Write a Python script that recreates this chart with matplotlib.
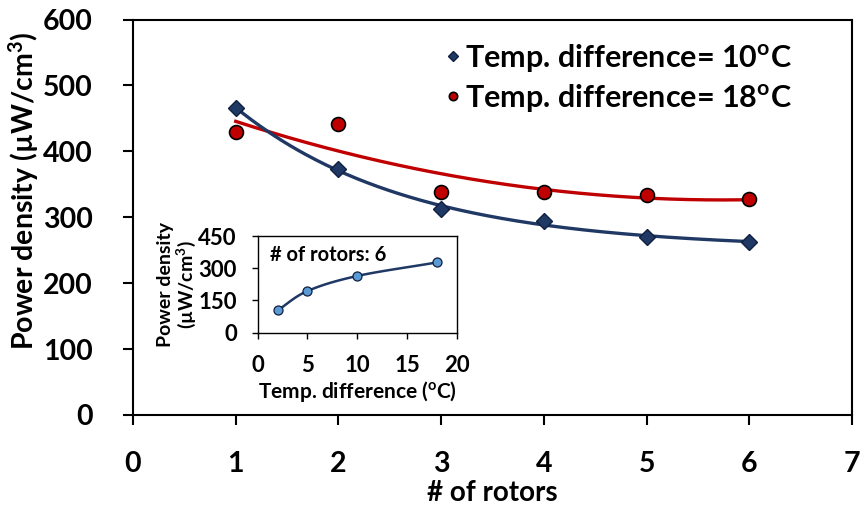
import numpy as np
import matplotlib
matplotlib.use("Agg")
import matplotlib.pyplot as plt

plt.rcParams['font.family'] = ['Lato', 'DejaVu Sans']
plt.rcParams['font.weight'] = 'bold'
plt.rcParams['mathtext.fontset'] = 'custom'
plt.rcParams['mathtext.rm'] = 'Lato:bold'
plt.rcParams['mathtext.bf'] = 'Lato:bold'
plt.rcParams['mathtext.it'] = 'Lato:bold:italic'

# Main chart data: power density vs number of rotors
rotors = [1, 2, 3, 4, 5, 6]
pd_dt10 = [466, 373, 312, 294, 270, 263]
pd_dt18 = [429, 442, 339, 339, 333, 328]
x_ticks = [0, 1, 2, 3, 4, 5, 6, 7]
y_ticks = [0, 100, 200, 300, 400, 500, 600]

# Inset data: power density vs temperature difference (6 rotors)
temp_diff = [2, 5, 10, 18]
pd_6rotors = [104, 194, 264, 327]
inset_x_ticks = [0, 5, 10, 15, 20]
inset_y_ticks = [0, 150, 300, 450]

navy = '#1F3864'
red = '#C00000'
light_blue = '#5B9BD5'


def exp_decay_fit(x, y):
    """Least-squares fit of y = a + b*exp(-c*x), scanning c."""
    x = np.asarray(x, float)
    y = np.asarray(y, float)
    best = None
    for c in np.linspace(0.05, 3.0, 600):
        A = np.column_stack([np.ones_like(x), np.exp(-c * x)])
        coef, *_ = np.linalg.lstsq(A, y, rcond=None)
        err = np.sum((A @ coef - y) ** 2)
        if best is None or err < best[0]:
            best = (err, coef[0], coef[1], c)
    _, a, b, c = best
    return lambda t: a + b * np.exp(-c * t)


fig = plt.figure(figsize=(8.62, 5.07), dpi=100)
ax = fig.add_axes([0.1543, 0.1815, 0.9884 - 0.1543, 0.9615 - 0.1815])

# Trend lines
xs = np.linspace(1, 6, 200)
trend10 = exp_decay_fit(rotors, pd_dt10)
fit18 = np.polyfit(rotors, pd_dt18, 2)
ax.plot(xs, np.polyval(fit18, xs), color=red, lw=2.4, zorder=2)
ax.plot(xs, trend10(xs), color=navy, lw=2.4, zorder=2)

ax.plot(rotors, pd_dt10, linestyle='none', marker='D', ms=8.5, mfc=navy,
        mec='#10203F', mew=1.0, zorder=3,
        label='Temp. difference= 10$^{\\mathrm{o}}$C')
ax.plot(rotors, pd_dt18, linestyle='none', marker='o', ms=10, mfc=red,
        mec='black', mew=1.2, zorder=3,
        label='Temp. difference= 18$^{\\mathrm{o}}$C')

ax.set_xlim(0, 7)
ax.set_ylim(0, 600)
ax.set_xticks(x_ticks)
ax.set_yticks(y_ticks)
ax.tick_params(axis='both', direction='out', length=7, width=1.5,
               labelsize=20.5)
ax.tick_params(axis='y', pad=22)
ax.tick_params(axis='x', pad=19)
for lab in ax.get_xticklabels() + ax.get_yticklabels():
    lab.set_fontweight('bold')
for sp in ax.spines.values():
    sp.set_linewidth(1.5)
ax.set_xlabel('# of rotors', fontsize=20, fontweight='bold', labelpad=2)
ax.set_ylabel('Power density (\u00b5W/cm$^{3}$)', fontsize=20.5,
              fontweight='bold')
ax.yaxis.set_label_coords(-0.128, 0.566)

leg = ax.legend(loc='upper left', bbox_to_anchor=(0.405, 0.997), frameon=False,
                markerscale=0.6, handlelength=0.5,
                handletextpad=0.15, labelspacing=0.25, borderpad=0.2,
                prop={'weight': 'bold', 'size': 22})

# Inset chart
ins = fig.add_axes([0.299, 0.3438, 0.2309, 0.1907])
# Catmull-Rom smoothing of the connecting line
P = np.column_stack([np.array(temp_diff, float), np.array(pd_6rotors, float)])
P_ext = np.vstack([2 * P[0] - P[1], P, 2 * P[-1] - P[-2]])
curve = []
for i in range(1, len(P_ext) - 2):
    p0, p1, p2, p3 = P_ext[i - 1], P_ext[i], P_ext[i + 1], P_ext[i + 2]
    t = np.linspace(0, 1, 30)[:, None]
    seg = 0.5 * ((2 * p1) + (-p0 + p2) * t + (2 * p0 - 5 * p1 + 4 * p2 - p3) * t ** 2
                 + (-p0 + 3 * p1 - 3 * p2 + p3) * t ** 3)
    curve.append(seg)
curve = np.vstack(curve)
ins.plot(curve[:, 0], curve[:, 1], color=navy, lw=1.8, zorder=2)
ins.plot(temp_diff, pd_6rotors, linestyle='none', marker='o', ms=6.5,
         mfc=light_blue, mec='#10203F', mew=0.9, zorder=3)
ins.set_xlim(0, 20)
ins.set_ylim(0, 450)
ins.set_xticks(inset_x_ticks)
ins.set_yticks(inset_y_ticks)
ins.tick_params(axis='both', direction='out', length=4, width=1.0,
                labelsize=16)
ins.tick_params(axis='y', pad=11)
ins.tick_params(axis='x', pad=12)
for lab in ins.get_xticklabels() + ins.get_yticklabels():
    lab.set_fontweight('bold')
for sp in ins.spines.values():
    sp.set_linewidth(1.0)
ins.text(1.2, 360, '# of rotors: 6', fontsize=14.5, fontweight='bold', va='center')
ins.set_xlabel('Temp. difference ($^{\\mathrm{o}}$C)', fontsize=15,
               fontweight='bold', labelpad=2)
ins.set_ylabel('Power density\n(\u00b5W/cm$^{3}$)', fontsize=14,
               fontweight='bold', linespacing=1.05)
ins.yaxis.set_label_coords(-0.3, 0.5)

fig.savefig('out.png', dpi=100)
